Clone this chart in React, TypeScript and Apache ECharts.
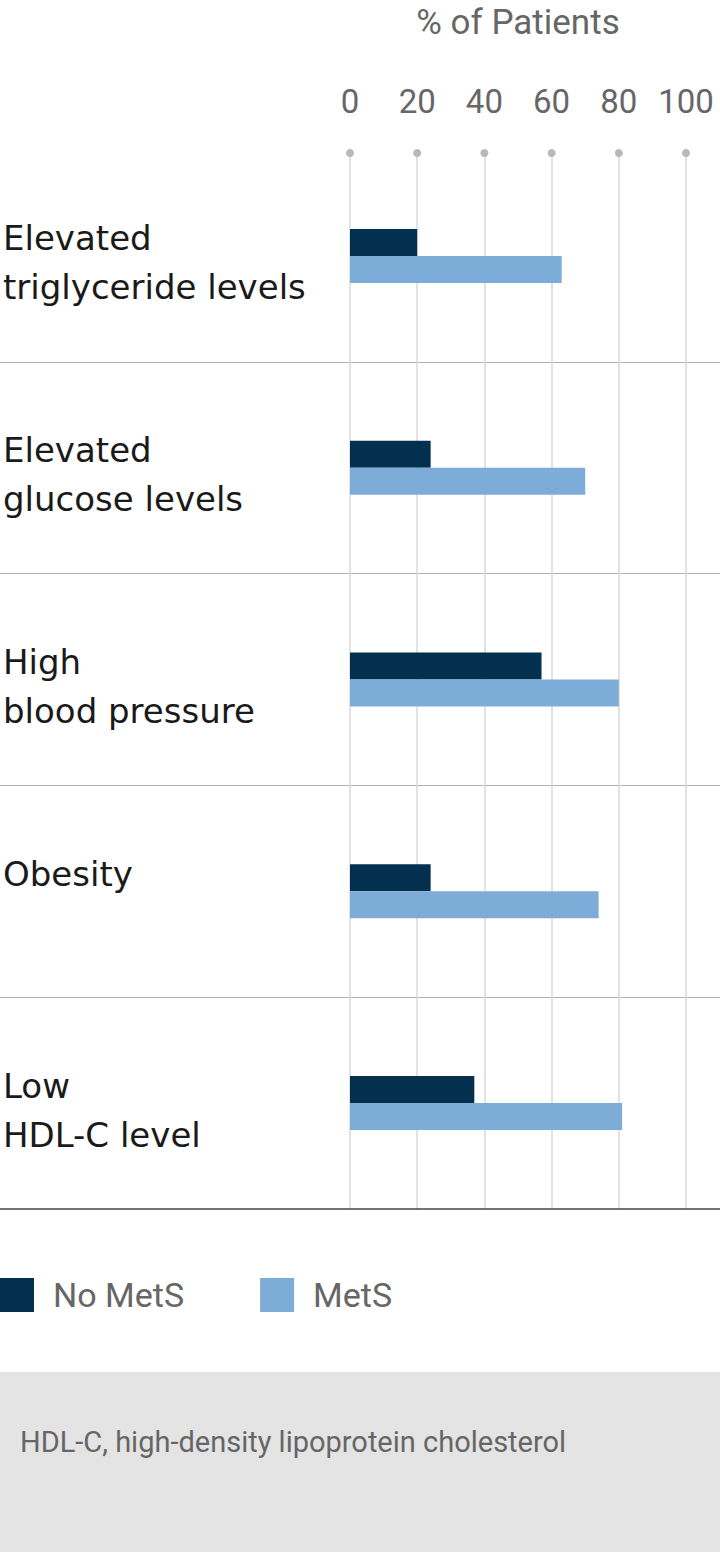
import React, { useEffect, useRef } from "react";
import * as echarts from "echarts";

const categories = [
  "Elevated\ntriglyceride levels",
  "Elevated\nglucose levels",
  "High\nblood pressure",
  "Obesity",
  "Low\nHDL-C level",
];
const noMetS = [20, 24, 57, 24, 37];
const metS = [63, 70, 80, 74, 81];
const xTicks = [0, 20, 40, 60, 80, 100];
const seriesNames = ["No MetS", "MetS"];
const axisTitle = "% of Patients";
const footnote = "HDL-C, high-density lipoprotein cholesterol";

const FONT = "Roboto, 'Noto Sans', sans-serif";
const CAT_FONT = "'DejaVu Sans', Roboto, sans-serif";
const DARK = "#03304f";
const LIGHT = "#7eacd9";

export default function App() {
  const ref = useRef<HTMLDivElement>(null);
  useEffect(() => {
    document.body.style.margin = "0";
    if (!ref.current) return;
    const chart = echarts.init(ref.current, null, { renderer: "svg" });
    const gridTop = 150;
    const gridBottom = 343;
    chart.setOption({
      animation: false,
      textStyle: { fontFamily: FONT },
      legend: {
        left: 0,
        top: 1278,
        padding: 0,
        itemWidth: 34,
        itemHeight: 34,
        itemGap: 76,
        icon: "rect",
        data: seriesNames,
        textStyle: {
          fontFamily: FONT,
          fontSize: 34,
          color: "#666",
          padding: [0, 0, 0, 14],
        },
      },
      grid: [
        { left: 349, right: 34, top: gridTop, bottom: gridBottom },
        { left: 0, right: 0, top: gridTop, bottom: gridBottom },
      ],
      xAxis: [
        {
          gridIndex: 0,
          type: "value",
          position: "top",
          min: 0,
          max: 100,
          interval: 20,
          name: axisTitle,
          nameLocation: "middle",
          nameGap: 110,
          nameTextStyle: { fontFamily: FONT, fontSize: 35, color: "#666" },
          axisLine: { show: false },
          axisTick: { show: false },
          axisLabel: {
            fontFamily: FONT,
            fontSize: 33,
            color: "#666",
            margin: 32,
          },
          splitLine: { show: true, lineStyle: { color: "#d9d9d9", width: 1.5 } },
        },
        {
          gridIndex: 1,
          type: "value",
          position: "bottom",
          min: 0,
          max: 1,
          axisLine: { show: true, onZero: false, lineStyle: { color: "#444", width: 1.5 } },
          axisTick: { show: false },
          axisLabel: { show: false },
          splitLine: { show: false },
        },
      ],
      yAxis: [
        {
          gridIndex: 0,
          type: "category",
          inverse: true,
          data: categories,
          axisLine: { show: false },
          axisTick: { show: false },
          splitLine: { show: false },
          axisLabel: {
            align: "left",
            margin: 347,
            verticalAlign: "middle",
            formatter: (v: string) => {
              const lines = v.split("\n");
              if (lines.length < 2) lines.push(" ");
              return ["{s| }", ...lines.map((l) => "{a|" + l + "}")].join("\n");
            },
            rich: {
              s: { fontSize: 10, lineHeight: 14, fontFamily: CAT_FONT },
              a: {
                fontFamily: CAT_FONT,
                fontSize: 34,
                color: "#1a1a1a",
                lineHeight: 49,
              },
            },
          },
        },
        {
          gridIndex: 1,
          type: "category",
          inverse: true,
          data: categories,
          axisLine: { show: false },
          axisTick: { show: false },
          axisLabel: { show: false },
          splitLine: {
            show: true,
            showMinLine: false,
            showMaxLine: false,
            lineStyle: { color: "#b3b3b3", width: 1 },
          },
        },
      ],
      series: [
        {
          name: seriesNames[0],
          type: "bar",
          xAxisIndex: 0,
          yAxisIndex: 0,
          data: noMetS,
          barWidth: 27,
          barGap: "0%",
          itemStyle: { color: DARK },
        },
        {
          name: seriesNames[1],
          type: "bar",
          xAxisIndex: 0,
          yAxisIndex: 0,
          data: metS,
          barWidth: 27,
          barGap: "0%",
          itemStyle: { color: LIGHT },
        },
      ],
    });

    const dots = xTicks.map((v) => ({
      type: "circle",
      shape: { cx: chart.convertToPixel({ xAxisIndex: 0 }, v) as number, cy: 153, r: 4 },
      style: { fill: "#b8b8b8" },
      z: 10,
    }));
    chart.setOption({
      graphic: [
        {
          type: "rect",
          shape: { x: 0, y: 1372, width: 720, height: 180 },
          style: { fill: "#e4e4e4" },
          z: -1,
        },
        {
          type: "text",
          x: 20,
          y: 1442,
          style: {
            text: footnote,
            fontFamily: FONT,
            fontSize: 29,
            fill: "#666",
            verticalAlign: "middle",
          },
        },
        ...dots,
      ],
    });
    return () => chart.dispose();
  }, []);
  return <div ref={ref} style={{ width: 720, height: 1552 }} />;
}
